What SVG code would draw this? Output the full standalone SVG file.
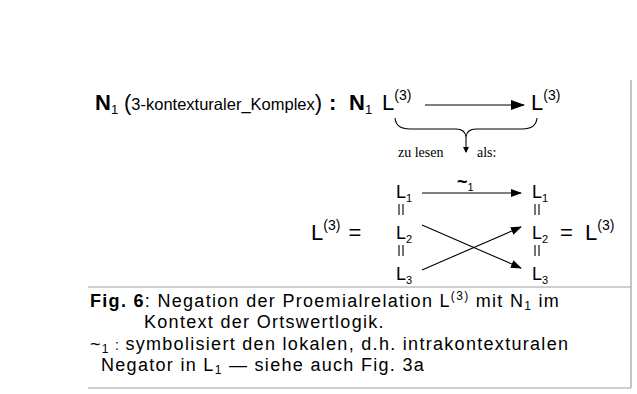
<svg xmlns="http://www.w3.org/2000/svg" width="637" height="394" viewBox="0 0 637 394">
<style>
text{font-family:"Liberation Sans",Arial,sans-serif;fill:#000}
.b{font-weight:bold}
.ser{font-family:"Liberation Serif","Times New Roman",serif}
.frame{stroke:#a0a0a0;stroke-width:1.2;fill:none}
.ln{stroke:#000;stroke-width:1.1;fill:none}
.cap{font-size:18px;letter-spacing:1.3px}
.col{font-size:18px}
</style>
<defs>
<marker id="ah" markerWidth="11" markerHeight="8" refX="10" refY="4" orient="auto" markerUnits="userSpaceOnUse">
<path d="M0,0 L11,4 L0,8 z" fill="#000"/>
</marker>
<marker id="ah2" markerWidth="14" markerHeight="10" refX="13" refY="5" orient="auto" markerUnits="userSpaceOnUse">
<path d="M0,0 L14,5 L0,10 z" fill="#000"/>
</marker>
<marker id="sa" markerWidth="6" markerHeight="6" refX="3" refY="5" orient="0" markerUnits="userSpaceOnUse">
<path d="M0,0 L3,6 L6,0 z" fill="#000"/>
</marker>
</defs>
<rect width="637" height="394" fill="#fff"/>
<g id="frame">
<line class="frame" x1="631" y1="80" x2="631" y2="388"/>
<line class="frame" x1="88" y1="287" x2="631" y2="287"/>
<line class="frame" x1="88" y1="388" x2="631" y2="388"/>
</g>
<g id="heading">
<text x="95" y="110" class="b" font-size="22">N<tspan font-size="13" font-weight="normal" dy="4">1</tspan></text>
<text x="124" y="110" font-size="16.5"><tspan font-size="22">(</tspan>3-kontexturaler_Komplex<tspan font-size="22">)</tspan></text>
<text x="329" y="110" class="b" font-size="22">:</text>
<text x="349" y="110" class="b" font-size="22">N<tspan font-size="13" font-weight="normal" dy="4">1</tspan></text>
</g>
<g id="L3-left">
<text x="382" y="110" font-size="22">L<tspan font-size="14" dy="-10">(3)</tspan></text>
</g>
<g id="L3-right">
<text x="531" y="110" font-size="22">L<tspan font-size="14" dy="-10">(3)</tspan></text>
</g>
<g id="brace">
<path class="ln" d="M395,118 Q396,129 410,129 L456,129 Q465,129 466,137 Q467,129 476,129 L522,129 Q536,129 537,118"/>
<line class="ln" x1="466" y1="137" x2="466" y2="152" marker-end="url(#sa)"/>
<text class="ser" x="398" y="157" font-size="14">zu lesen</text>
<text class="ser" x="477" y="157" font-size="14">als:</text>
</g>
<g id="L3-eq-left">
<text x="311" y="240" font-size="22">L<tspan font-size="14" dy="-10">(3)</tspan><tspan dy="10" dx="8">=</tspan></text>
</g>
<g id="col-left">
<text x="396" y="198" class="col">L<tspan font-size="11" dy="4">1</tspan></text>
<line class="ln" x1="399" y1="204" x2="399" y2="215" stroke-width="0.9"/>
<line class="ln" x1="403" y1="204" x2="403" y2="215" stroke-width="0.9"/>
<text x="396" y="239" class="col">L<tspan font-size="11" dy="4">2</tspan></text>
<line class="ln" x1="399" y1="245" x2="399" y2="256" stroke-width="0.9"/>
<line class="ln" x1="403" y1="245" x2="403" y2="256" stroke-width="0.9"/>
<text x="396" y="280" class="col">L<tspan font-size="11" dy="4">3</tspan></text>
</g>
<g id="col-right">
<text x="532" y="198" class="col">L<tspan font-size="11" dy="4">1</tspan></text>
<line class="ln" x1="535" y1="204" x2="535" y2="215" stroke-width="0.9"/>
<line class="ln" x1="539" y1="204" x2="539" y2="215" stroke-width="0.9"/>
<text x="532" y="239" class="col">L<tspan font-size="11" dy="4">2</tspan></text>
<line class="ln" x1="535" y1="245" x2="535" y2="256" stroke-width="0.9"/>
<line class="ln" x1="539" y1="245" x2="539" y2="256" stroke-width="0.9"/>
<text x="532" y="280" class="col">L<tspan font-size="11" dy="4">3</tspan></text>
</g>
<g id="L3-eq-right">
<text x="560" y="240" font-size="22">=</text>
<text x="585" y="240" font-size="22">L<tspan font-size="14" dy="-10">(3)</tspan></text>
</g>
<g id="connectors">
<line class="ln" x1="425" y1="105" x2="524" y2="105" marker-end="url(#ah2)"/>
<line class="ln" x1="422" y1="193" x2="521" y2="193" marker-end="url(#ah)"/>
<text x="457" y="188" font-size="18" class="b">~<tspan font-size="11" font-weight="normal" dy="3">1</tspan></text>
<line class="ln" x1="422" y1="225" x2="521" y2="268" marker-end="url(#ah)"/>
<line class="ln" x1="422" y1="270" x2="521" y2="227" marker-end="url(#ah)"/>
</g>
<g id="caption">
<text class="cap" x="90" y="307"><tspan font-weight="bold">Fig. 6</tspan>: Negation der Proemialrelation L<tspan font-size="12" dy="-7">(3)</tspan><tspan dy="7"> mit N</tspan><tspan font-size="12" dy="3">1</tspan><tspan dy="-3"> im</tspan></text>
<text class="cap" x="144" y="328">Kontext der Ortswertlogik.</text>
<text class="cap" x="90" y="350">~<tspan font-size="12" dy="3">1</tspan><tspan dy="-3" font-size="14"> : </tspan>symbolisiert den lokalen, d.h. intrakontexturalen</text>
<text class="cap" x="101" y="371">Negator in L<tspan font-size="12" dy="3">1</tspan><tspan dy="-3"> — siehe auch Fig. 3a</tspan></text>
</g>
</svg>
